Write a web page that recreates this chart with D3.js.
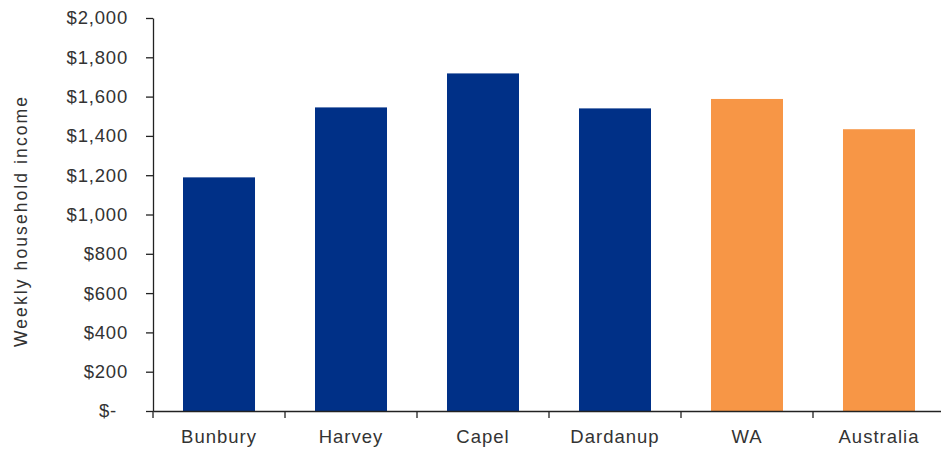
<!DOCTYPE html>
<html><head><meta charset="utf-8">
<script src="https://cdn.jsdelivr.net/npm/d3@7"></script>
<style>body{margin:0;background:#fff}svg{display:block}text{font-family:"Liberation Sans",Arial,sans-serif}</style>
</head><body>
<svg id="c" width="941" height="451"></svg>
<script>
const categories = ["Bunbury","Harvey","Capel","Dardanup","WA","Australia"];
const values = [1189,1545,1718,1540,1588,1434];
const groups = ["region","region","region","region","benchmark","benchmark"];
const yTicks = [0,200,400,600,800,1000,1200,1400,1600,1800,2000];
const yTitle = "Weekly household  income";

const colors = {region:"#003087", benchmark:"#F79646"};
const svg = d3.select("#c");
const x0 = 153, x1 = 945, yTop = 18, yBot = 411;
const x = d3.scaleBand().domain(categories).range([x0,x1]).paddingInner(0.4545).paddingOuter(0.2273);
const y = d3.scaleLinear().domain([0,2000]).range([yBot,yTop]);
const txt = "#333";

// bars
svg.selectAll("rect.bar").data(categories).enter().append("rect")
  .attr("x", d=>x(d)).attr("width", x.bandwidth())
  .attr("y", (d,i)=>y(values[i])).attr("height",(d,i)=>yBot-y(values[i]))
  .attr("fill",(d,i)=>colors[groups[i]]);

// y axis
const ya = svg.append("g").attr("transform",`translate(${x0},0)`)
  .call(d3.axisLeft(y).tickValues(yTicks).tickSize(7).tickSizeOuter(0).tickPadding(18)
    .tickFormat(v=> v===0 ? "$-" : "$"+d3.format(",")(v)));
ya.selectAll("path,line").attr("stroke","#222").attr("stroke-width",1.3);
ya.selectAll("text").attr("font-size",18.5).attr("fill",txt).style("letter-spacing","0.8px")
  .attr("font-family",'"Liberation Sans",Arial,sans-serif');
ya.selectAll(".tick").filter(d=>d===0).select("text").attr("dx",-11);

// x axis
const step = x.step();
const boundaries = categories.map(c=>x(c)-x.paddingInner()*step/2).concat([x0 + categories.length*step]);
const xa = svg.append("g").attr("transform",`translate(0,${yBot})`)
  .call(d3.axisBottom(x).tickSize(0).tickPadding(0).tickSizeOuter(0));
xa.select("path.domain").attr("stroke","#222").attr("stroke-width",1.3);
xa.selectAll("text").attr("y",32).attr("dy",0).attr("font-size",18.5).attr("fill",txt)
  .style("letter-spacing","1px").attr("font-family",'"Liberation Sans",Arial,sans-serif');
xa.selectAll("line.bt").data(boundaries).enter().append("line").attr("class","bt")
  .attr("x1",d=>d).attr("x2",d=>d).attr("y1",0).attr("y2",7).attr("stroke","#222").attr("stroke-width",1.3);

// y title
svg.append("text").attr("transform",`translate(27,222) rotate(-90)`)
  .attr("text-anchor","middle").attr("font-size",17.5).attr("fill",txt)
  .attr("textLength",250).attr("lengthAdjust","spacing").text(yTitle);
</script>
</body></html>
